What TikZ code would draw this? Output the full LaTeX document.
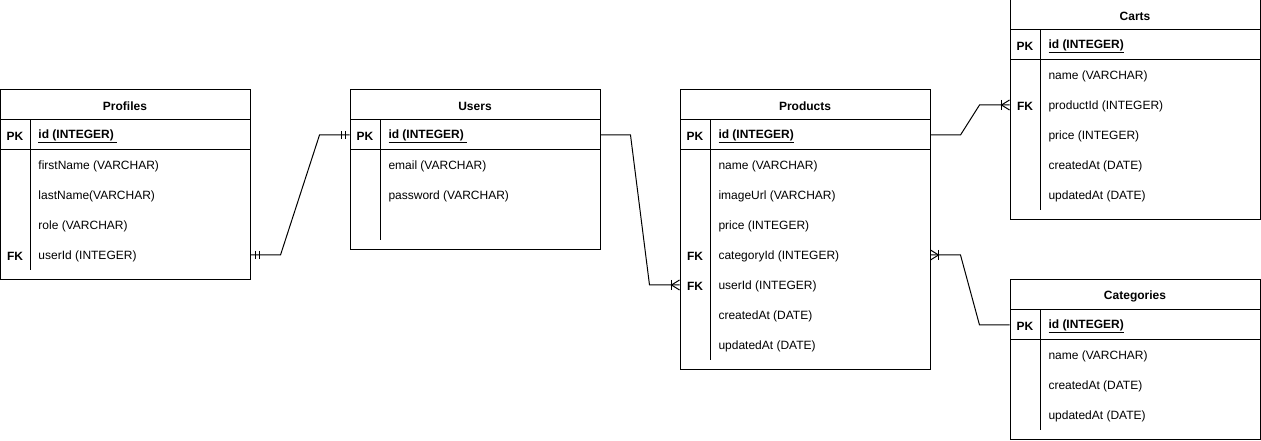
\documentclass[tikz,border=0pt]{standalone}
\usepackage{fontspec}
\setmainfont{Liberation Sans}
\usetikzlibrary{positioning}
\begin{document}
\begin{tikzpicture}[x=0.75pt,y=-0.75pt,line width=0.75pt,
	font=\fontsize{9}{11}\selectfont,
	tbl/.style={draw,rectangle,inner sep=0pt,minimum width=187.5pt},
	tbltitle/.style={font=\fontsize{9}{11}\selectfont\bfseries,yshift=-1pt},
	keylbl/.style={font=\fontsize{9}{11}\selectfont\bfseries,yshift=-1pt},
	field/.style={anchor=west,inner sep=0pt,yshift=-1pt}]
	
	\useasboundingbox (0,0) rectangle (1261,441);
	
	%profiles
	\node[tbl,minimum height=142.5pt](profiles) at (125,185) {};
	\draw (0,120) -- (250,120);
	\draw (0,150) -- (250,150);
	\draw (30,120) -- (30,270);
	\node[tbltitle](pf-title) at (125,105) {Profiles};
	\node[keylbl](pf-pk) at (15,135) {PK};
	\node[field](pf-id) at (38,135) {\bfseries\underline{id (INTEGER)\ }};
	\node[field](pf-first) at (38,165) {firstName (VARCHAR)};
	\node[field](pf-last) at (38,195) {lastName(VARCHAR)};
	\node[field](pf-role) at (38,225) {role (VARCHAR)};
	\node[keylbl](pf-fk) at (15,255) {FK};
	\node[field](pf-userid) at (38,255) {userId (INTEGER)};
	
	%users
	\node[tbl,minimum height=120pt](users) at (475,170) {};
	\draw (350,120) -- (600,120);
	\draw (350,150) -- (600,150);
	\draw (380,120) -- (380,240);
	\node[tbltitle](us-title) at (475,105) {Users};
	\node[keylbl](us-pk) at (365,135) {PK};
	\node[field](us-id) at (388,135) {\bfseries\underline{id (INTEGER)\ }};
	\node[field](us-email) at (388,165) {email (VARCHAR)};
	\node[field](us-pass) at (388,195) {password (VARCHAR)};
	
	%products
	\node[tbl,minimum height=210pt](products) at (805,230) {};
	\draw (680,120) -- (930,120);
	\draw (680,150) -- (930,150);
	\draw (710,120) -- (710,360);
	\node[tbltitle](pd-title) at (805,105) {Products};
	\node[keylbl](pd-pk) at (695,135) {PK};
	\node[field](pd-id) at (718,135) {\bfseries\underline{id (INTEGER)}};
	\node[field](pd-name) at (718,165) {name (VARCHAR)};
	\node[field](pd-image) at (718,195) {imageUrl (VARCHAR)};
	\node[field](pd-price) at (718,225) {price (INTEGER)};
	\node[keylbl](pd-fk1) at (695,255) {FK};
	\node[field](pd-catid) at (718,255) {categoryId (INTEGER)};
	\node[keylbl](pd-fk2) at (695,285) {FK};
	\node[field](pd-userid) at (718,285) {userId (INTEGER)};
	\node[field](pd-created) at (718,315) {createdAt (DATE)};
	\node[field](pd-updated) at (718,345) {updatedAt (DATE)};
	
	%carts
	\node[tbl,minimum height=165pt](carts) at (1135,110) {};
	\draw (1010,30) -- (1260,30);
	\draw (1010,60) -- (1260,60);
	\draw (1040,30) -- (1040,210);
	\node[tbltitle](ct-title) at (1135,15) {Carts};
	\node[keylbl](ct-pk) at (1025,45) {PK};
	\node[field](ct-id) at (1048,45) {\bfseries\underline{id (INTEGER)}};
	\node[field](ct-name) at (1048,75) {name (VARCHAR)};
	\node[keylbl](ct-fk) at (1025,105) {FK};
	\node[field](ct-prodid) at (1048,105) {productId (INTEGER)};
	\node[field](ct-price) at (1048,135) {price (INTEGER)};
	\node[field](ct-created) at (1048,165) {createdAt (DATE)};
	\node[field](ct-updated) at (1048,195) {updatedAt (DATE)};
	
	%categories
	\node[tbl,minimum height=120pt](categories) at (1135,360) {};
	\draw (1010,310) -- (1260,310);
	\draw (1010,340) -- (1260,340);
	\draw (1040,310) -- (1040,430);
	\node[tbltitle](cg-title) at (1135,295) {Categories};
	\node[keylbl](cg-pk) at (1025,325) {PK};
	\node[field](cg-id) at (1048,325) {\bfseries\underline{id (INTEGER)}};
	\node[field](cg-name) at (1048,355) {name (VARCHAR)};
	\node[field](cg-created) at (1048,385) {createdAt (DATE)};
	\node[field](cg-updated) at (1048,415) {updatedAt (DATE)};
	
	%relation ends
	\coordinate (e-pf) at (profiles.east |- 0,255);
	\coordinate (e-us) at (users.west |- 0,135);
	\coordinate (e-us2) at (users.east |- 0,135);
	\coordinate (e-pd) at (products.west |- 0,285);
	\coordinate (e-pd2) at (products.east |- 0,135);
	\coordinate (e-ct) at (carts.west |- 0,105);
	\coordinate (e-pd3) at (products.east |- 0,255);
	\coordinate (e-cg) at (categories.west |- 0,325);
	
	%connectors
	\draw (e-pf) -- ++(30,0) -- ([xshift=-22.5pt]e-us) -- (e-us);
	\draw (e-us2) -- ++(30,0) -- ([xshift=-22.5pt]e-pd) -- (e-pd);
	\draw (e-pd2) -- ++(30,0) -- ([xshift=-22.5pt]e-ct) -- (e-ct);
	\draw (e-pd3) -- ++(30,0) -- ([xshift=-22.5pt]e-cg) -- (e-cg);
	
	%one and only one
	\draw (e-pf) ++(5,-4) -- ++(0,8);
	\draw (e-pf) ++(9,-4) -- ++(0,8);
	\draw (e-us) ++(-4,-4) -- ++(0,8);
	\draw (e-us) ++(-8,-4) -- ++(0,8);
	%one or many
	\draw (e-pd) ++(-8,-5) -- ++(0,10);
	\draw (e-pd) ++(0,-5) -- ++(-8,5) -- ++(8,5);
	\draw (e-ct) ++(-8,-5) -- ++(0,10);
	\draw (e-ct) ++(0,-5) -- ++(-8,5) -- ++(8,5);
	\draw (e-pd3) ++(8,-5) -- ++(0,10);
	\draw (e-pd3) ++(0,-5) -- ++(8,5) -- ++(-8,5);
	
\end{tikzpicture}
\end{document}
